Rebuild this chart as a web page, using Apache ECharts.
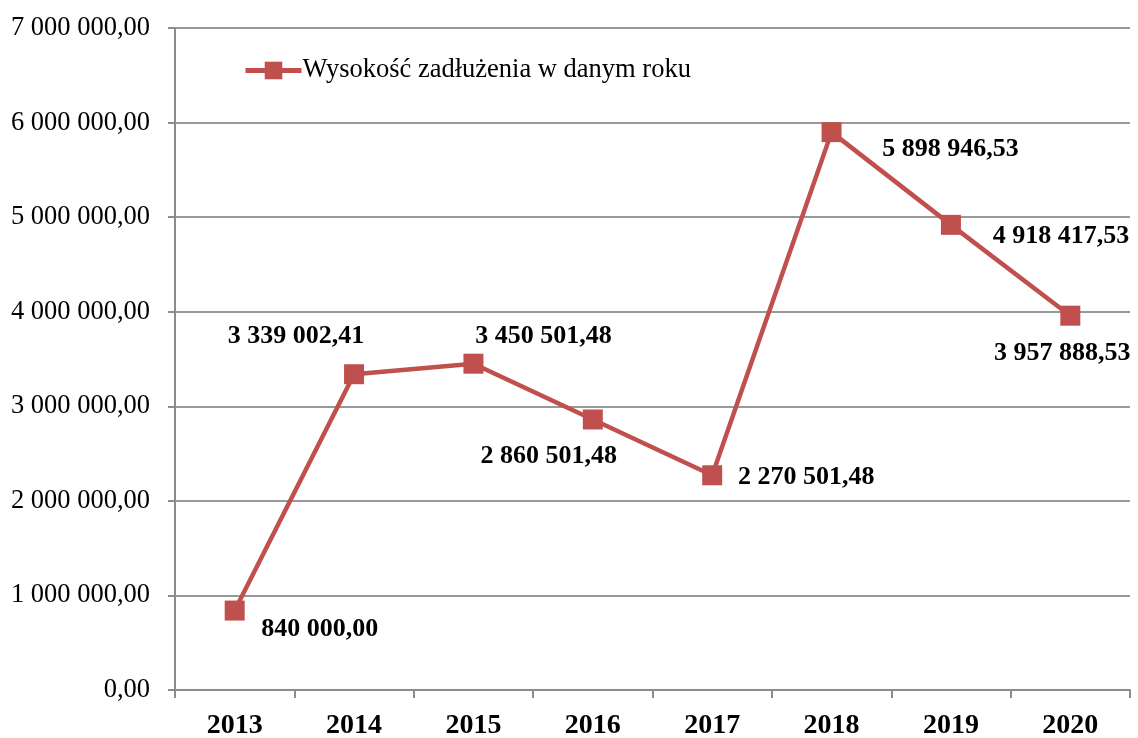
<!DOCTYPE html>
<html><head><meta charset="utf-8">
<script src="https://cdn.jsdelivr.net/npm/echarts@6/dist/echarts.min.js"></script>
<style>html,body{margin:0;padding:0;background:#fff}#c{width:1138px;height:738px}</style>
</head><body><div id="c"></div>
<script>
const categories = ['2013','2014','2015','2016','2017','2018','2019','2020'];
const debt = [840000.00, 3339002.41, 3450501.48, 2860501.48, 2270501.48, 5898946.53, 4918417.53, 3957888.53];
const seriesName = 'Wysokość zadłużenia w danym roku';
const labelOffsets = [[85,19],[-58,-38],[70,-27],[-44,37],[94,2],[119,17],[110,11],[-8,38]];
function fmt(v){
  const s = v.toFixed(2).split('.');
  return s[0].replace(/\B(?=(\d{3})+(?!\d))/g,' ') + ',' + s[1];
}
const font = '"Liberation Serif", "Times New Roman", serif';
const chart = echarts.init(document.getElementById('c'));
chart.setOption({
  animation:false,
  textStyle:{fontFamily:font},
  grid:{left:175,right:8,top:28,bottom:48,containLabel:false,outerBoundsMode:'none'},
  legend:{
    left:238, top:52, itemWidth:56, itemHeight:22, itemGap:0,
    lineStyle:{width:5},
    textStyle:{fontFamily:font,fontSize:26.5,color:'#000',padding:[0,0,0,-4]},
    data:[seriesName]
  },
  xAxis:{
    type:'category', data:categories, boundaryGap:true,
    axisLine:{lineStyle:{color:'#8c8c8c',width:2}},
    axisTick:{show:true,length:8,lineStyle:{color:'#8c8c8c',width:2}},
    axisLabel:{color:'#000',fontFamily:font,fontSize:28,fontWeight:'bold',margin:22}
  },
  yAxis:{
    type:'value', min:0, max:7000000, interval:1000000,
    axisLine:{show:true,lineStyle:{color:'#8c8c8c',width:2}},
    axisTick:{show:true,length:7,inside:false,lineStyle:{color:'#8c8c8c',width:2}},
    splitLine:{lineStyle:{color:'#999',width:2}},
    axisLabel:{color:'#000',fontFamily:font,fontSize:26.5,margin:25,formatter:fmt}
  },
  series:[{
    name:seriesName, type:'line',
    data: debt.map((v,i)=>({value:v,label:{position:'inside',offset:labelOffsets[i]}})),
    symbol:'rect', symbolSize:20,
    lineStyle:{color:'#C0504D',width:4.5},
    itemStyle:{color:'#C0504D'},
    label:{show:true,fontFamily:font,fontSize:26,fontWeight:'bold',color:'#000',formatter:p=>fmt(p.value)}
  }]
});
</script></body></html>
